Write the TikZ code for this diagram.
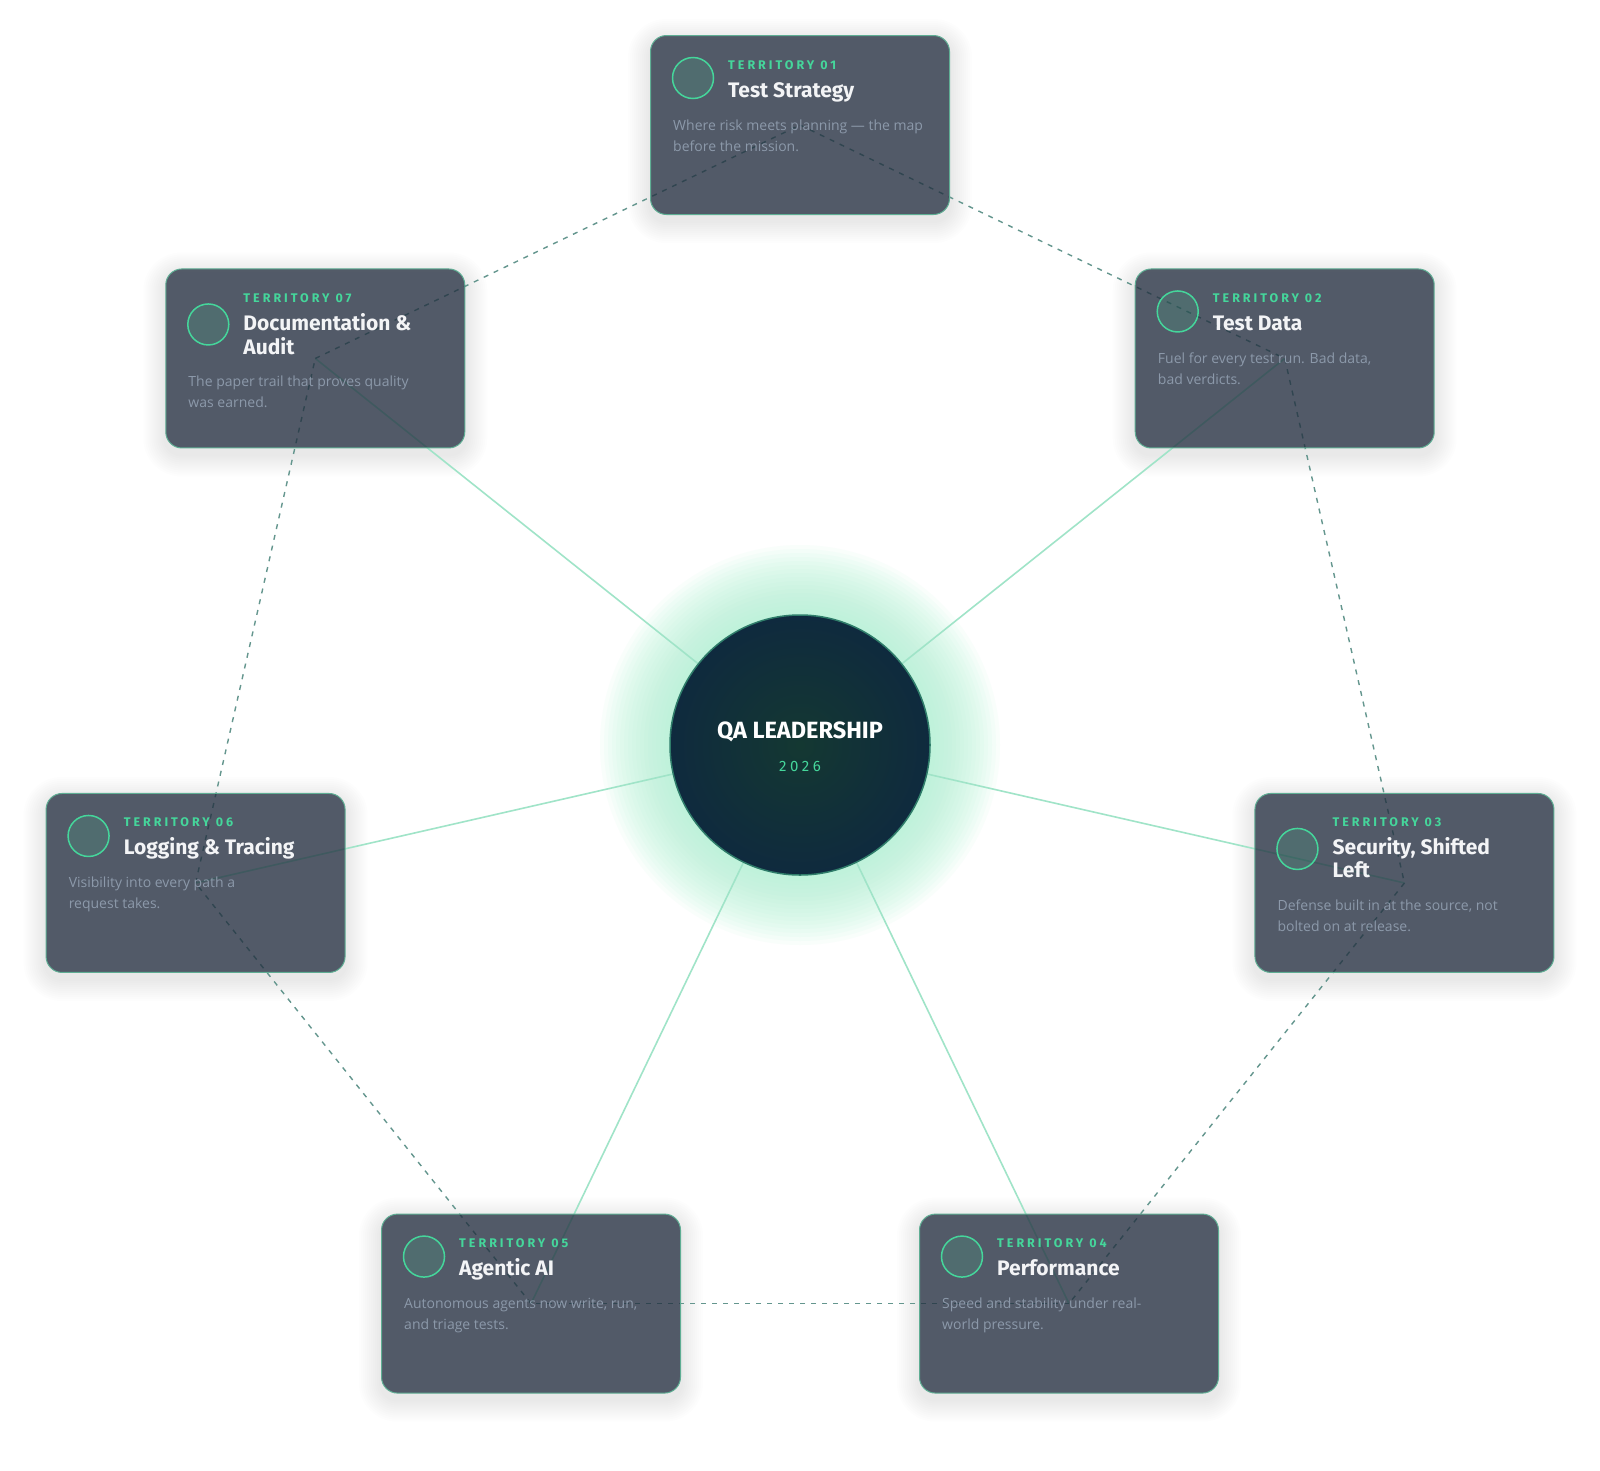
\documentclass[tikz,border=0pt]{standalone}
\usepackage{fontspec}
\setmainfont{Open Sans}
\newfontfamily\headfont{Fira Sans}
\newfontfamily\tagfont{Fira Sans}[LetterSpace=24]
\usepackage{tikz}
\usetikzlibrary{
    positioning,
    backgrounds
}
\tikzset{
  card/.style    = {draw=cardline, line width=1pt, fill=cardfill, fill opacity=0.74,
                    rounded corners=16pt, minimum width=299pt, minimum height=179pt,
                    inner sep=0pt},
  halo/.style    = {fill=black, fill opacity=0.007},
  icon/.style    = {circle, draw=mint, line width=1.5pt, fill=mint, fill opacity=0.15,
                    minimum size=41pt, inner sep=0pt},
  tag/.style     = {font=\tagfont\bfseries\fontsize{12.5}{14}\selectfont, text=mint,
                    inner sep=0pt, anchor=base west},
  ttl/.style     = {font=\headfont\bfseries\fontsize{21}{23}\selectfont, text=titlecol,
                    inner sep=0pt, anchor=base west},
  txt/.style     = {font=\fontsize{14}{21}\selectfont, text=bodycol,
                    inner sep=0pt, anchor=base west},
  hub/.style     = {circle, minimum size=260pt, draw=hubline, line width=1.5pt,
                    shading=hubshade},
  hubttl/.style  = {font=\headfont\bfseries\fontsize{23.5}{26}\selectfont, text=white,
                    inner sep=0pt, anchor=base},
  year/.style    = {font=\tagfont\fontsize{15}{16}\selectfont, text=mint, inner sep=0pt},
  spoke/.style   = {spokecol, line width=1.6pt},
  link/.style    = {linkcol, line width=1.4pt, dash pattern=on 5pt off 6pt}
}
\definecolor{cardfill}{RGB}{30,41,59}
\definecolor{cardline}{RGB}{95,174,148}
\definecolor{mint}{RGB}{69,214,155}
\definecolor{titlecol}{RGB}{243,244,246}
\definecolor{bodycol}{RGB}{140,153,170}
\definecolor{hubline}{RGB}{47,125,106}
\definecolor{hubdark}{RGB}{15,42,62}
\definecolor{hubmid}{RGB}{20,56,50}
\definecolor{glow}{RGB}{175,242,212}
\definecolor{spokecol}{RGB}{160,228,200}
\definecolor{linkcol}{RGB}{100,150,142}
\pgfdeclareradialshading{hubshade}{\pgfpoint{0bp}{0bp}}{color(0bp)=(hubmid); color(25bp)=(hubdark); color(50bp)=(hubdark)}
\newcommand\cardlines[1]{\begin{tabular}[t]{@{}l@{}}#1\end{tabular}}

\begin{document}
\begin{tikzpicture}[x=1pt, y=-1pt]
    \useasboundingbox (0,0) rectangle (1600,1470);
    % territories around the hub
    \foreach \i/\head/\body/\n in {
        1/{Test Strategy}/{Where risk meets planning — the map\\before the mission.}/0,
        2/{Test Data}/{Fuel for every test run. Bad data,\\bad verdicts.}/0,
        3/{Security, Shifted\\Left}/{Defense built in at the source, not\\bolted on at release.}/1,
        4/{Performance}/{Speed and stability under real-\\world pressure.}/0,
        5/{Agentic AI}/{Autonomous agents now write, run,\\and triage tests.}/0,
        6/{Logging \& Tracing}/{Visibility into every path a\\request takes.}/0,
        7/{Documentation \&\\Audit}/{The paper trail that proves quality\\was earned.}/1}{
        \pgfmathsetmacro\ang{(\i-1)*360/7}
        \pgfmathsetmacro\cx{800+620*sin(\ang)}
        \pgfmathsetmacro\cy{745-620*cos(\ang)}
        \node[card] (t\i) at (\cx,\cy) {};
        \node[icon] (c\i) at ([shift={(43,43+13*\n)}]t\i.north west) {};
        \node[tag] (g\i) at ([shift={(78,34)}]t\i.north west) {TERRITORY 0\i};
        \node[ttl] (h\i) at ([shift={(78,62)}]t\i.north west) {\cardlines{\head}};
        \node[txt] (d\i) at ([shift={(23,95+23*\n)}]t\i.north west) {\cardlines{\body}};
    }
    % centre
    \node[hub] (hub) at (800,745) {};
    \node[hubttl] (q) at (800,738) {QA LEADERSHIP};
    \node[year, below=19pt of q] (yr) {2026};
    \begin{scope}[on background layer]
        \fill[white] (0,0) rectangle (1600,1470);
        \foreach \r in {132,136,...,200}
            \fill[glow, fill opacity=0.075] (hub.center) circle[radius=\r pt];
        \foreach \i in {1,...,7}
            \foreach \s in {2,4,...,22}
                \fill[halo, rounded corners=16pt+\s pt]
                    ([shift={(-\s,6-\s)}]t\i.north west) rectangle ([shift={(\s,6+\s)}]t\i.south east);
        \foreach \i in {2,...,7}
            \draw[spoke] (hub.center) -- (t\i.center);
        \foreach \i in {1,...,7}{
            \pgfmathtruncatemacro\j{mod(\i,7)+1}
            \draw[link] (t\i.center) -- (t\j.center);
        }
    \end{scope}
\end{tikzpicture}
\end{document}
